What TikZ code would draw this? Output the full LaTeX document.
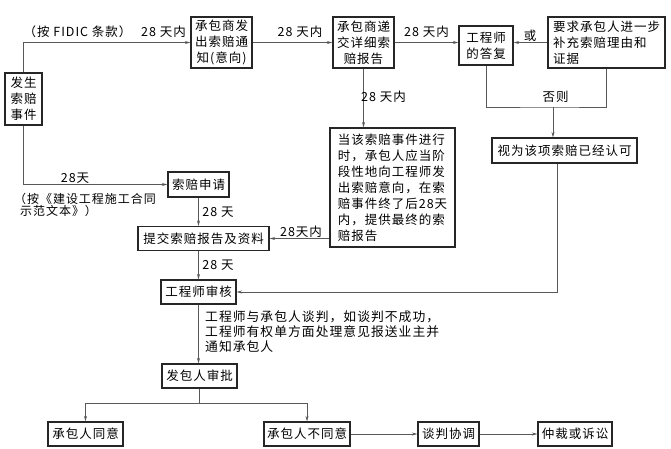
\documentclass[tikz,border=0pt]{standalone}
\usepackage{fontspec}
\setmainfont{Noto Sans CJK SC}[LetterSpace=8]
\usetikzlibrary{arrows.meta}
\begin{document}
\begin{tikzpicture}[x=1pt,y=-1pt,
  txt/.style={font=\fontsize{12.5}{16}\selectfont, inner sep=0pt},
  box/.style={draw=black!85, line width=1.2pt, font=\fontsize{12.5}{16}\selectfont, inner sep=2.5pt, anchor=center},
  conn/.style={draw=black!65, line width=0.7pt},
  arr/.style={conn, -{Stealth[length=5.5pt,width=3pt]}}]
\useasboundingbox (0,0) rectangle (671,448);
\fill[white] (0,0) rectangle (671,448);
% boxes
\node[box, minimum width=37pt, minimum height=52pt, align=center] (ev) at (23.5,99) {发生\\索赔\\事件};
\node[box, minimum width=61pt, minimum height=51pt, align=center] (n1) at (221.5,42.5) {承包商发\\出索赔通\\知(意向)};
\node[box, minimum width=61pt, minimum height=51pt, align=center] (n2) at (363.5,42.5) {承包商递\\交详细索\\赔报告};
\node[box, minimum width=54pt, minimum height=39pt, align=center] (n3) at (486,45.5) {工程师\\的答复};
\node[box, minimum width=117pt, minimum height=51pt, align=left] (n4) at (606.5,42.5) {要求承包人进一步\\补充索赔理由和\\证据};
\node[box, minimum width=145pt, minimum height=25pt] (n5) at (564.5,150.5) {视为该项索赔已经认可};
\node[box, minimum width=125pt, minimum height=119pt, align=left] (n6) at (392.5,187.5) {当该索赔事件进行\\时，承包人应当阶\\段性地向工程师发\\出索赔意向，在索\\赔事件终了后28天\\内，提供最终的索\\赔报告};
\node[box, minimum width=61pt, minimum height=25pt] (n7) at (198.5,184.5) {索赔申请};
\node[box, minimum width=131pt, minimum height=24pt] (n8) at (203.5,238.5) {提交索赔报告及资料};
\node[box, minimum width=75pt, minimum height=24pt] (n9) at (198.5,292) {工程师审核};
\node[box, minimum width=75pt, minimum height=24pt] (n10) at (199.5,376) {发包人审批};
\node[box, minimum width=75pt, minimum height=24pt] (n11) at (85.5,434) {承包人同意};
\node[box, minimum width=86pt, minimum height=24pt] (n12) at (307,434) {承包人不同意};
\node[box, minimum width=61pt, minimum height=24pt] (n13) at (448.5,434) {谈判协调};
\node[box, minimum width=74pt, minimum height=24pt] (n14) at (575,434) {仲裁或诉讼};
% connectors
\draw[arr] (ev.north) |- (n1.west);
\draw[arr] (n1.east) -- (n2.west);
\draw[arr] (n2.east) -- (n2.east -| n3.west);
\draw[arr] (n4.west) -- (n4.west -| n3.east);
\coordinate (j) at (553,107);
\draw[conn] (n3.south) |- (j) -| (n4.south);
\draw[arr] (j) -- (j |- n5.north);
\draw[arr] (n2.south) -- (n2.south |- n6.north);
\draw[arr] (ev.south) |- (n7.west);
\draw[arr] (n7.south) -- (n7.south |- n8.north);
\draw[arr] (n6.west |- n8.east) -- (n8.east);
\draw[arr] (n8.south -| n9.north) -- (n9.north);
\draw[arr] ([xshift=-7.5pt]n5.south) |- (n9.east);
\draw[arr] (n9.south) -- (n9.south |- n10.north);
\coordinate (b) at (199.5,403);
\draw[conn] (n10.south) -- (b);
\draw[arr] (b) -| (n11.north);
\draw[arr] (b) -| (n12.north);
\draw[arr] (n12.east) -- (n13.west);
\draw[arr] (n13.east) -- (n14.west);
% labels
\node[txt] (l1) at (77.5,32) {（按 FIDIC 条款）};
\node[txt] (l2) at (163.5,32) {28 天内};
\node[txt] (l3) at (300,32) {28 天内};
\node[txt] (l4) at (426.5,32) {28 天内};
\node[txt] (l5) at (530,36) {或};
\node[txt] (l6) at (555.5,97) {否则};
\node[txt] (l7) at (383.5,97) {28 天内};
\node[txt] (l8) at (75,178) {28天};
\node[txt, align=left, anchor=north west, font=\fontsize{12}{12.5}\selectfont] (l9) at (14,193) {（按《建设工程施工合同\\\hspace*{6pt}示范文本》）};
\node[txt] (l10) at (218,212) {28 天};
\node[txt] (l11) at (301,232) {28天内};
\node[txt] (l12) at (218,265) {28 天};
\node[txt, align=left, anchor=north west, font=\fontsize{12.8}{15}\selectfont] (l13) at (205,310) {工程师与承包人谈判，如谈判不成功，\\工程师有权单方面处理意见报送业主并\\通知承包人};
\end{tikzpicture}
\end{document}
